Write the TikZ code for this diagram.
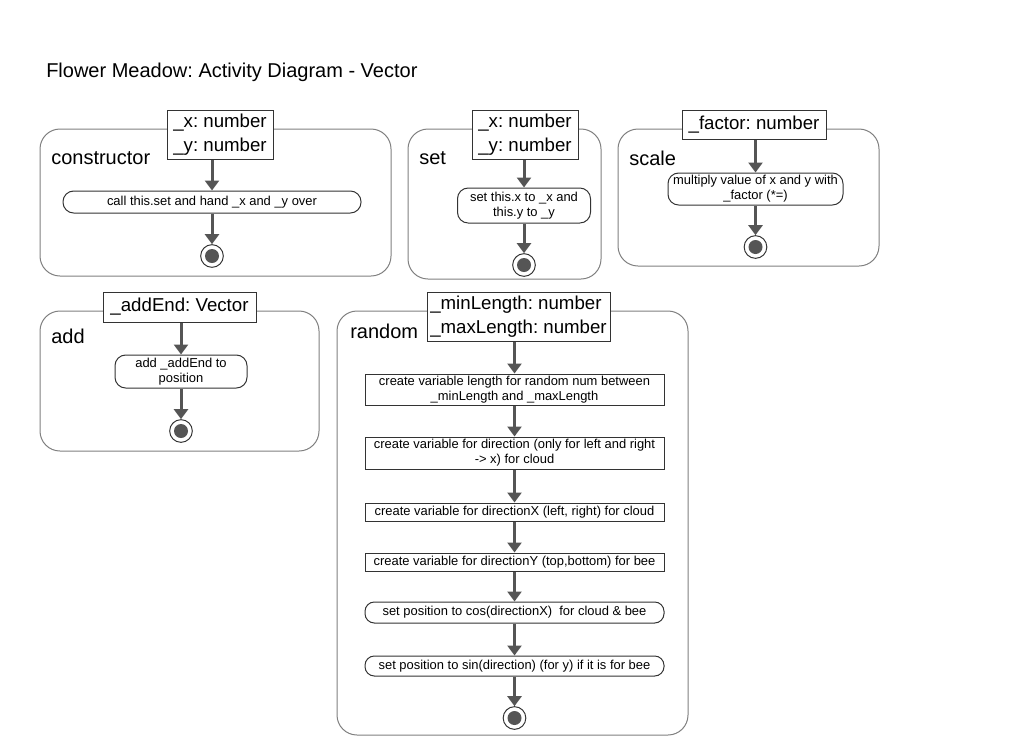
\documentclass[tikz,border=0pt]{standalone}
\usepackage{fontspec}
\setmainfont{Liberation Sans}
\usetikzlibrary{arrows.meta,positioning}
\definecolor{framegray}{HTML}{808080}
\definecolor{linegray}{HTML}{555555}
\definecolor{boxgray}{HTML}{333333}
\frenchspacing

\begin{document}
\begin{tikzpicture}[x=0.75pt,y=-0.75pt,>={Triangle[width=10.5pt,length=7.5pt]},
  frame/.style={draw=framegray,line width=0.75pt,rounded corners=15pt},
  param/.style={draw=boxgray,fill=white,line width=0.75pt,inner sep=0pt,align=left,
    font=\fontsize{14}{18}\selectfont},
  title/.style={anchor=west,inner sep=0pt,font=\fontsize{15}{18}\selectfont},
  actbox/.style={draw=boxgray,fill=white,line width=0.75pt,inner sep=0pt,align=center,
    font=\fontsize{9.7}{11.25}\selectfont},
  actpill/.style={actbox,rounded corners=8pt},
  endnode/.style={circle,draw=boxgray,fill=white,line width=0.75pt,minimum size=17pt,inner sep=0pt,
    path picture={\fill[linegray] (path picture bounding box.center) circle (5.25pt);}},
  flow/.style={->,draw=linegray,line width=2.25pt}]
  \fill[white] (0,0) rectangle (1024,736);
  \useasboundingbox (0,0) rectangle (1024,736);

  \node[title] (head) at (46,72) {Flower Meadow: Activity Diagram - Vector};

  % frames
  \draw[frame] (40,129) rectangle (391,276);
  \draw[frame] (408,129) rectangle (601,279);
  \draw[frame] (618,129) rectangle (879,266);
  \draw[frame] (40,311) rectangle (319,451);
  \draw[frame] (337,311) rectangle (688,735);

  \node[title] (lcons) at (51,158) {constructor};
  \node[title] (lset) at (419,158) {set};
  \node[title] (lscale) at (629,158) {scale};
  \node[title] (ladd) at (51,336) {add};
  \node[title] (lrand) at (350,331) {random};

  % constructor
  \node[param,minimum width=79.5pt,minimum height=36.75pt] (cpar) at (220,135) {\_x: number\\\_y: number};
  \node[actpill,minimum width=223.5pt,minimum height=16.5pt] (cact) at (212,202) {call this.set and hand \_x and \_y over};
  \node[endnode] (cend) at (212,256) {};
  \draw[flow] (cpar.south -| cact.north) -- (cact.north);
  \draw[flow] (cact) -- (cend);

  % set
  \node[param,minimum width=79.5pt,minimum height=36.75pt] (spar) at (525,135) {\_x: number\\\_y: number};
  \node[actpill,minimum width=99.75pt,minimum height=26.25pt] (sact) at (524,205.5) {set this.x to \_x and\\this.y to \_y};
  \node[endnode] (send) at (524,265) {};
  \draw[flow] (spar.south -| sact.north) -- (sact.north);
  \draw[flow] (sact) -- (send);

  % scale
  \node[param,minimum width=108pt,minimum height=21.75pt] (kpar) at (754,124.5) {\_factor: number};
  \node[actpill,minimum width=131.25pt,minimum height=24pt] (kact) at (755.5,189) {multiply value of x and y with\\\_factor (*=)};
  \node[endnode] (kend) at (755.5,247) {};
  \draw[flow] (kpar.south -| kact.north) -- (kact.north);
  \draw[flow] (kact) -- (kend);

  % add
  \node[param,minimum width=114.75pt,minimum height=22.5pt] (apar) at (179.5,307) {\_addEnd: Vector};
  \node[actpill,minimum width=99pt,minimum height=24.75pt] (aact) at (181,371.5) {add \_addEnd to\\position};
  \node[endnode] (aend) at (181,431) {};
  \draw[flow] (apar.south -| aact.north) -- (aact.north);
  \draw[flow] (aact) -- (aend);

  % random
  \node[param,minimum width=137.25pt,minimum height=36.75pt] (rpar) at (518.5,317) {\_minLength: number\\\_maxLength: number};
  \node[actbox,minimum width=224.25pt,minimum height=23.25pt] (r1) at (514.5,389.5) {create variable length for random num between\\\_minLength and \_maxLength};
  \node[actbox,minimum width=224.25pt,minimum height=24pt] (r2) at (514.5,453) {create variable for direction (only for left and right\\-> x) for cloud};
  \node[actbox,minimum width=224.25pt,minimum height=13.5pt] (r3) at (514.5,512) {create variable for directionX (left, right) for cloud};
  \node[actbox,minimum width=224.25pt,minimum height=13.5pt] (r4) at (514.5,562) {create variable for directionY (top,bottom) for bee};
  \node[actpill,minimum width=224.25pt,minimum height=15.75pt,rounded corners=7pt] (r5) at (514.5,612.5) {set position to cos(directionX)\ \ for cloud \& bee};
  \node[actpill,minimum width=224.25pt,minimum height=15pt,rounded corners=7pt] (r6) at (514.5,666) {set position to sin(direction) (for y) if it is for bee};
  \node[endnode] (rend) at (514.5,718) {};
  \draw[flow] (rpar.south -| r1.north) -- (r1.north);
  \foreach \a/\b in {r1/r2,r2/r3,r3/r4,r4/r5,r5/r6,r6/rend}
    \draw[flow] (\a) -- (\b);
\end{tikzpicture}
\end{document}
